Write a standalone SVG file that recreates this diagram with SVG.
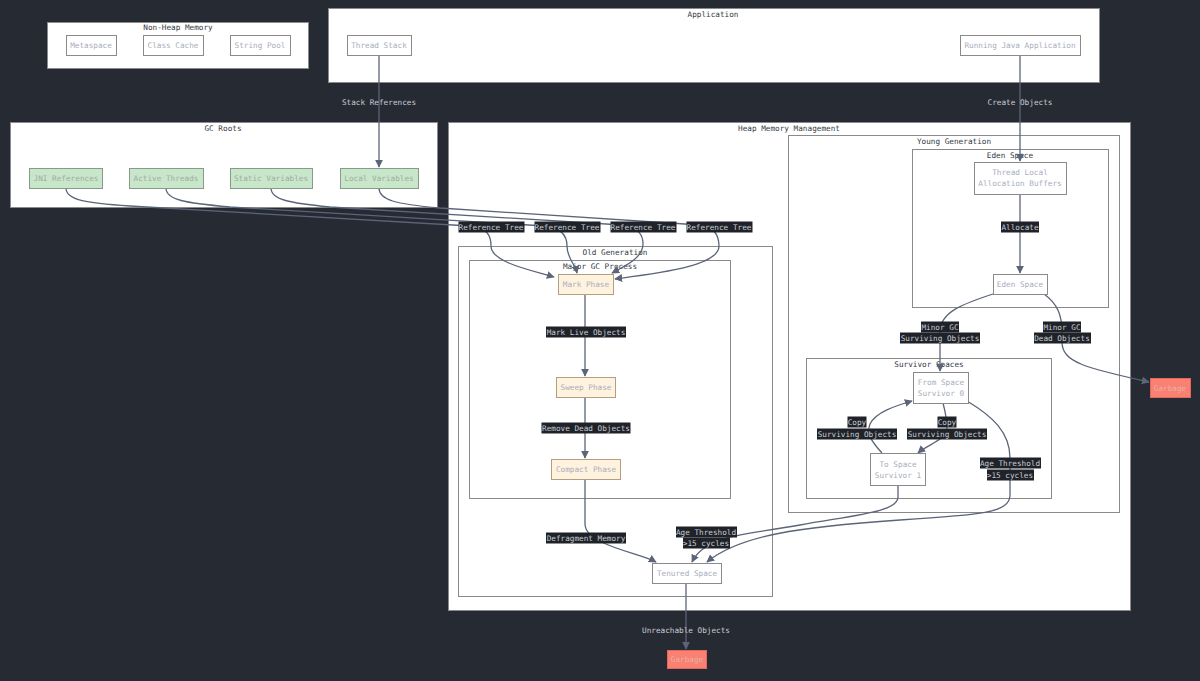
<svg xmlns="http://www.w3.org/2000/svg" width="1200" height="681" viewBox="0 0 1200 681">
<style>
text{font-family:"DejaVu Sans Mono","Liberation Mono",monospace;font-size:7.7px;text-anchor:middle}
.cl{fill:#ffffff;stroke:#8a8a8a;stroke-width:1}
.ct{fill:#333a44}
.nd{fill:#ffffff;stroke:#8a8a8a;stroke-width:1}
.gr{fill:#c8e6c9;stroke:#8a9a8a;stroke-width:1}
.cr{fill:#fff3e0;stroke:#b0a080;stroke-width:1}
.gb{fill:#fa8072;stroke:#e06a60;stroke-width:1}
.nt{fill:#a8aebb}
.gt{fill:#a0aca0}
.bt{fill:#e8b0a8}
.e{fill:none;stroke:#5b6478;stroke-width:1.3}
.lb{fill:#1f2228}
.lt{fill:#c8ccd4}
.ot{fill:#c8ccd4}
</style>
<defs>
<marker id="ah" viewBox="0 0 10 10" refX="9" refY="5" markerWidth="8" markerHeight="8" markerUnits="userSpaceOnUse" orient="auto">
<path d="M0,0 L10,5 L0,10 z" fill="#5b6478"/>
</marker>
</defs>
<rect x="0" y="0" width="1200" height="681" fill="#262a33"/>

<g id="clusters">
<g id="nonheap"><rect class="cl" x="47.5" y="22.5" width="261" height="46"/><text class="ct" x="178" y="30">Non-Heap Memory</text></g>
<g id="application"><rect class="cl" x="328.5" y="8.5" width="771" height="74"/><text class="ct" x="713" y="17">Application</text></g>
<g id="gcroots"><rect class="cl" x="10.5" y="122.5" width="427" height="85"/><text class="ct" x="223" y="131">GC Roots</text></g>
<g id="heap"><rect class="cl" x="448.5" y="122.5" width="682" height="488"/><text class="ct" x="789" y="131">Heap Memory Management</text></g>
<g id="young"><rect class="cl" x="788.5" y="135.5" width="331" height="377"/><text class="ct" x="954" y="144">Young Generation</text></g>
<g id="edenc"><rect class="cl" x="912.5" y="149.5" width="196" height="158"/><text class="ct" x="1010" y="158">Eden Space</text></g>
<g id="survivor"><rect class="cl" x="806.5" y="358.5" width="245" height="140"/><text class="ct" x="929" y="367">Survivor Spaces</text></g>
<g id="old"><rect class="cl" x="458.5" y="246.5" width="314" height="350"/><text class="ct" x="615" y="255">Old Generation</text></g>
<g id="major"><rect class="cl" x="469.5" y="260.5" width="261" height="238"/><text class="ct" x="600" y="269">Major GC Process</text></g>
</g>

<g id="connectors">
<path class="e" d="M379,55 L379,167" marker-end="url(#ah)"/>
<path class="e" d="M1020,55 L1020,161" marker-end="url(#ah)"/>
<path class="e" d="M1020,194 L1020,273" marker-end="url(#ah)"/>
<path class="e" d="M996,293 C962,304 940,312 940,332 L940,371" marker-end="url(#ah)"/>
<path class="e" d="M1044,294 C1058,304 1062,316 1062,332 L1062,342 C1062,362 1085,368 1149,382" marker-end="url(#ah)"/>
<path class="e" d="M943,403 C945,412 947,416 947,428 C947,440 928,444 918,453" marker-end="url(#ah)"/>
<path class="e" d="M882,453 C872,442 866,434 870,424 C876,412 895,406 912,401" marker-end="url(#ah)"/>
<path class="e" d="M967,401 C992,416 1010,432 1010,458 L1010,495 C1010,513 980,515 900,520 C800,527 740,535 707,562" marker-end="url(#ah)"/>
<path class="e" d="M898,485 L898,497 C898,512 855,515 800,525 C760,532 735,534 720,540 C705,546 697,552 692,562" marker-end="url(#ah)"/>
<path class="e" d="M585,479 L585,524 C585,545 640,553 656,562" marker-end="url(#ah)"/>
<path class="e" d="M585,294 L585,376" marker-end="url(#ah)"/>
<path class="e" d="M585,397 L585,458" marker-end="url(#ah)"/>
<path class="e" d="M686,583 L686,649" marker-end="url(#ah)"/>
<path class="e" d="M66,188 C66,200 85,203 130,206 L470,226 C488,228 491,236 491,246 C491,262 530,270 554,277" marker-end="url(#ah)"/>
<path class="e" d="M166,188 C166,200 185,203 230,207 L545,226 C562,228 567,236 567,246 C567,258 575,264 577,273" marker-end="url(#ah)"/>
<path class="e" d="M271,188 C271,200 290,203 330,207 L622,225 C640,228 643,236 643,244 C643,258 625,266 612,273" marker-end="url(#ah)"/>
<path class="e" d="M379,188 C379,200 395,204 440,208 L700,225 C715,227 719,236 719,246 C719,266 660,273 615,279" marker-end="url(#ah)"/>
</g>

<g id="edge-labels">
<text class="ot" x="379" y="105">Stack References</text>
<text class="ot" x="1020" y="105">Create Objects</text>
<text class="ot" x="686" y="633">Unreachable Objects</text>
<rect class="lb" x="1001" y="221.5" width="38" height="11"/><text class="lt" x="1020" y="230">Allocate</text>
<rect class="lb" x="921" y="321.5" width="38" height="11"/><text class="lt" x="940" y="330">Minor GC</text>
<rect class="lb" x="900" y="332.5" width="80" height="11"/><text class="lt" x="940" y="341">Surviving Objects</text>
<rect class="lb" x="1043" y="321.5" width="38" height="11"/><text class="lt" x="1062" y="330">Minor GC</text>
<rect class="lb" x="1034" y="332.5" width="57" height="11"/><text class="lt" x="1062" y="341">Dead Objects</text>
<rect class="lb" x="847.5" y="416.5" width="19" height="11"/><text class="lt" x="857" y="425">Copy</text>
<rect class="lb" x="817" y="428.5" width="80" height="11"/><text class="lt" x="857" y="437">Surviving Objects</text>
<rect class="lb" x="937.5" y="416.5" width="19" height="11"/><text class="lt" x="947" y="425">Copy</text>
<rect class="lb" x="907" y="428.5" width="80" height="11"/><text class="lt" x="947" y="437">Surviving Objects</text>
<rect class="lb" x="980" y="457.5" width="61" height="11"/><text class="lt" x="1010" y="466">Age Threshold</text>
<rect class="lb" x="987" y="469.5" width="47" height="11"/><text class="lt" x="1010" y="478">&gt;15 cycles</text>
<rect class="lb" x="676" y="526.5" width="61" height="11"/><text class="lt" x="706" y="535">Age Threshold</text>
<rect class="lb" x="683" y="537.5" width="47" height="11"/><text class="lt" x="706" y="546">&gt;15 cycles</text>
<rect class="lb" x="546" y="532.5" width="80" height="11"/><text class="lt" x="586" y="541">Defragment Memory</text>
<rect class="lb" x="546" y="326.5" width="80" height="11"/><text class="lt" x="586" y="335">Mark Live Objects</text>
<rect class="lb" x="541.5" y="422.5" width="89" height="11"/><text class="lt" x="586" y="431">Remove Dead Objects</text>
<rect class="lb" x="458.5" y="221.5" width="66" height="11"/><text class="lt" x="491" y="230">Reference Tree</text>
<rect class="lb" x="534.5" y="221.5" width="66" height="11"/><text class="lt" x="567" y="230">Reference Tree</text>
<rect class="lb" x="610.5" y="221.5" width="66" height="11"/><text class="lt" x="643" y="230">Reference Tree</text>
<rect class="lb" x="686.5" y="221.5" width="66" height="11"/><text class="lt" x="719" y="230">Reference Tree</text>
</g>

<g id="n-metaspace"><rect class="nd" x="66.5" y="35.5" width="50" height="20"/><text class="nt" x="91" y="48">Metaspace</text></g>
<g id="n-classcache"><rect class="nd" x="143.5" y="35.5" width="60" height="20"/><text class="nt" x="173" y="48">Class Cache</text></g>
<g id="n-stringpool"><rect class="nd" x="230.5" y="35.5" width="60" height="20"/><text class="nt" x="260" y="48">String Pool</text></g>
<g id="n-threadstack"><rect class="nd" x="347.5" y="35.5" width="64" height="20"/><text class="nt" x="379" y="48">Thread Stack</text></g>
<g id="n-running"><rect class="nd" x="960.5" y="35.5" width="120" height="20"/><text class="nt" x="1020" y="48">Running Java Application</text></g>
<g id="n-jni"><rect class="gr" x="29.5" y="168.5" width="73" height="20"/><text class="gt" x="66" y="181">JNI References</text></g>
<g id="n-active"><rect class="gr" x="129.5" y="168.5" width="74" height="20"/><text class="gt" x="166" y="181">Active Threads</text></g>
<g id="n-static"><rect class="gr" x="230.5" y="168.5" width="82" height="20"/><text class="gt" x="271" y="181">Static Variables</text></g>
<g id="n-local"><rect class="gr" x="340.5" y="168.5" width="78" height="20"/><text class="gt" x="379" y="181">Local Variables</text></g>
<g id="n-tlab"><rect class="nd" x="974.5" y="162.5" width="92" height="32"/><text class="nt" x="1020" y="175">Thread Local</text><text class="nt" x="1020" y="186">Allocation Buffers</text></g>
<g id="n-eden"><rect class="nd" x="993.5" y="274.5" width="54" height="20"/><text class="nt" x="1020" y="287">Eden Space</text></g>
<g id="n-from"><rect class="nd" x="913.5" y="372.5" width="55" height="31"/><text class="nt" x="941" y="385">From Space</text><text class="nt" x="941" y="396">Survivor 0</text></g>
<g id="n-to"><rect class="nd" x="870.5" y="453.5" width="55" height="32"/><text class="nt" x="898" y="467">To Space</text><text class="nt" x="898" y="478">Survivor 1</text></g>
<g id="n-garbage1"><rect class="gb" x="1150.5" y="378.5" width="40" height="19"/><text class="bt" x="1170" y="391">Garbage</text></g>
<g id="n-mark"><rect class="cr" x="558.5" y="274.5" width="55" height="20"/><text class="nt" x="586" y="287">Mark Phase</text></g>
<g id="n-sweep"><rect class="cr" x="556.5" y="377.5" width="59" height="20"/><text class="nt" x="586" y="390">Sweep Phase</text></g>
<g id="n-compact"><rect class="cr" x="551.5" y="459.5" width="69" height="20"/><text class="nt" x="586" y="472">Compact Phase</text></g>
<g id="n-tenured"><rect class="nd" x="652.5" y="563.5" width="69" height="20"/><text class="nt" x="687" y="576">Tenured Space</text></g>
<g id="n-garbage2"><rect class="gb" x="667.5" y="650.5" width="39" height="18"/><text class="bt" x="687" y="662">Garbage</text></g>
</svg>
